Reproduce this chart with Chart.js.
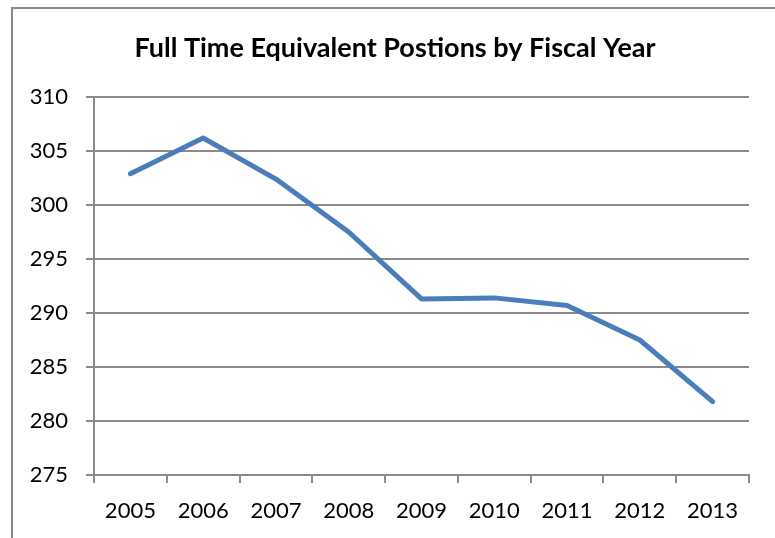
<!DOCTYPE html>
<html>
<head>
<meta charset="utf-8">
<script src="https://cdn.jsdelivr.net/npm/chart.js@4"></script>
<style>
  html, body { margin: 0; padding: 0; background: #fff; overflow: hidden; }
  canvas { display: block; }
</style>
</head>
<body>
<canvas id="fteChart" width="775" height="538"></canvas>
<script>
const years = ["2005", "2006", "2007", "2008", "2009", "2010", "2011", "2012", "2013"];
const ftePositions = [302.9, 306.2, 302.4, 297.5, 291.3, 291.4, 290.7, 287.5, 281.8];
const yMin = 275;
const yMax = 310;
const yStep = 5;
const chartTitle = "Full Time Equivalent Postions by Fiscal Year";

const axisGrey = "#8a8a8a";
const font = { family: "Lato", size: 22 };

// outer frame (only top and left edges visible) plus the title,
// which sits a little right of the canvas centre like in the original
const framePlugin = {
  id: "frame",
  beforeDraw: function (chart) {
    const c = chart.ctx;
    c.save();
    c.strokeStyle = axisGrey;
    c.lineWidth = 2;
    c.beginPath();
    c.moveTo(12, chart.height);
    c.lineTo(12, 8);
    c.lineTo(chart.width, 8);
    c.stroke();
    c.restore();
  },
  afterDraw: function (chart) {
    const c = chart.ctx;
    c.save();
    c.fillStyle = "#000";
    c.font = "bold 27px Lato";
    c.textAlign = "center";
    c.textBaseline = "middle";
    c.fillText(chartTitle, 395, 48);
    c.restore();
  },
};

const ctx = document.getElementById("fteChart").getContext("2d");
new Chart(ctx, {
  type: "line",
  data: {
    labels: years,
    datasets: [{
      label: "FTE",
      data: ftePositions,
      borderColor: "#4a7ebb",
      borderWidth: 5,
      borderCapStyle: "round",
      borderJoinStyle: "round",
      pointRadius: 0,
      tension: 0,
      fill: false,
    }],
  },
  plugins: [framePlugin],
  options: {
    responsive: false,
    animation: false,
    layout: { padding: { left: 0, right: 26, top: 97, bottom: 0 } },
    plugins: {
      legend: { display: false },
      tooltip: { enabled: false },
      title: { display: false },
    },
    scales: {
      x: {
        offset: true,
        grid: {
          offset: true,
          drawOnChartArea: false,
          drawTicks: true,
          tickLength: 8,
          color: axisGrey,
          lineWidth: 2,
        },
        border: { display: true, color: axisGrey, width: 2 },
        ticks: { color: "#000", font: font, padding: 15, maxRotation: 0 },
        afterFit: function (scale) { scale.height = 63; },
      },
      y: {
        min: yMin,
        max: yMax,
        grid: {
          color: axisGrey,
          lineWidth: 2,
          drawTicks: true,
          tickLength: 8,
        },
        border: { display: true, color: axisGrey, width: 2 },
        ticks: { stepSize: yStep, color: "#000", font: font, padding: 18 },
        afterFit: function (scale) { scale.width = 94; },
      },
    },
  },
});
</script>
</body>
</html>
